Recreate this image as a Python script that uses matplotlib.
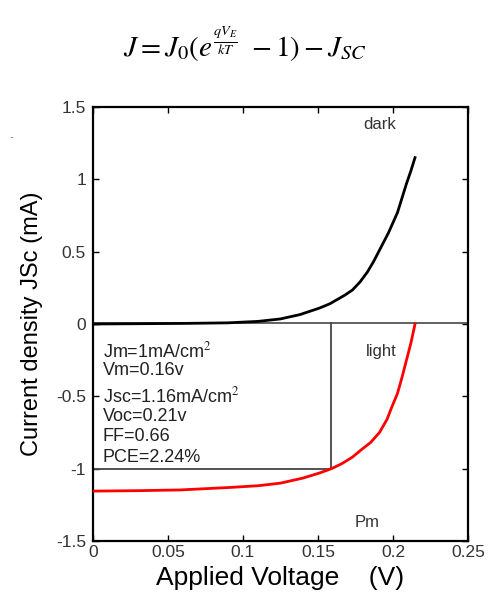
import matplotlib
matplotlib.use("Agg")
import matplotlib.pyplot as plt

plt.rcParams['font.family'] = ['Liberation Sans', 'DejaVu Sans']
plt.rcParams['mathtext.fontset'] = 'stix'

# Dark J-V curve
dark_v = [0.0, 0.03, 0.06, 0.09, 0.11, 0.125, 0.138, 0.151, 0.158, 0.163, 0.168, 0.173, 0.178, 0.183, 0.187,
          0.191, 0.194, 0.197, 0.200, 0.203, 0.206, 0.209, 0.212, 0.2147]
dark_j = [0.0, 0.002, 0.004, 0.008, 0.018, 0.035, 0.065, 0.11, 0.14, 0.17, 0.20, 0.235, 0.29, 0.36, 0.43,
          0.51, 0.57, 0.63, 0.70, 0.77, 0.87, 0.97, 1.06, 1.15]

# Illuminated J-V curve
light_v = [0.0, 0.03, 0.058, 0.091, 0.11, 0.125, 0.14, 0.151, 0.159, 0.166, 0.173, 0.18, 0.185, 0.191,
           0.196, 0.199, 0.203, 0.206, 0.209, 0.212, 0.2147]
light_j = [-1.155, -1.152, -1.147, -1.13, -1.118, -1.10, -1.065, -1.03, -1.0, -0.965, -0.92, -0.86, -0.82, -0.75,
           -0.66, -0.58, -0.48, -0.37, -0.25, -0.13, 0.0]

# Maximum power point rectangle
vm = 0.159
jm = -1.0
box_top = 0.01

xticks = [0, 0.05, 0.1, 0.15, 0.2, 0.25]
xtick_labels = ["0", "0.05", "0.1", "0.15", "0.2", "0.25"]
yticks = [-1.5, -1, -0.5, 0, 0.5, 1, 1.5]
ytick_labels = ["-1.5", "-1", "-0.5", "0", "0.5", "1", "1.5"]

param_lines = ["Jm=1mA/cm$^2$", "Vm=0.16v", "Jsc=1.16mA/cm$^2$", "Voc=0.21v", "FF=0.66", "PCE=2.24%"]
param_y = [-0.19, -0.32, -0.50, -0.64, -0.78, -0.92]

fig = plt.figure(figsize=(4.89, 5.94), dpi=100)
ax = fig.add_axes([0.190, 0.0892, 0.767, 0.7307])

ax.plot([0, 0.25], [box_top, box_top], color='#555555', lw=1.3, zorder=2)
ax.plot([vm, vm], [jm, box_top], color='#444444', lw=1.3, zorder=2)
ax.plot([0, vm], [jm, jm], color='#444444', lw=1.3, zorder=2)

ax.plot(dark_v, dark_j, color='black', lw=2.0, zorder=3)
ax.plot(light_v, light_j, color='#ff0000', lw=2.0, zorder=3)

ax.set_xlim(0, 0.25)
ax.set_ylim(-1.5, 1.5)
ax.set_xticks(xticks)
ax.set_xticklabels(xtick_labels)
ax.set_yticks(yticks)
ax.set_yticklabels(ytick_labels)
ax.tick_params(direction='in', top=True, right=True, length=4, width=1,
               labelsize=12.5, labelcolor='#333333')
ax.tick_params(axis='x', pad=3)
ax.tick_params(axis='y', pad=5)
for s in ax.spines.values():
    s.set_linewidth(1.6)

for t, y in zip(param_lines, param_y):
    ax.text(0.0065, y, t, fontsize=13, color='#222222', va='center', ha='left')

ax.text(0.191, 1.38, "dark", fontsize=12, color='#333333', ha='center', va='center')
ax.text(0.192, -0.19, "light", fontsize=12, color='#333333', ha='center', va='center')
ax.text(0.183, -1.37, "Pm", fontsize=12, color='#333333', ha='center', va='center')

ax.set_ylabel("Current density JSc (mA)", fontsize=17, labelpad=9)
ax.set_xlabel("Applied Voltage    (V)", fontsize=19, labelpad=4)

fig.text(0.5, 0.925, r"$J = J_0(e^{\frac{qV_E}{kT}}\ - 1) - J_{SC}$", fontsize=21,
         ha='center', va='center')
fig.text(0.02, 0.764, "-", fontsize=8, color='#6080a0')

fig.savefig("out.png", dpi=100)
